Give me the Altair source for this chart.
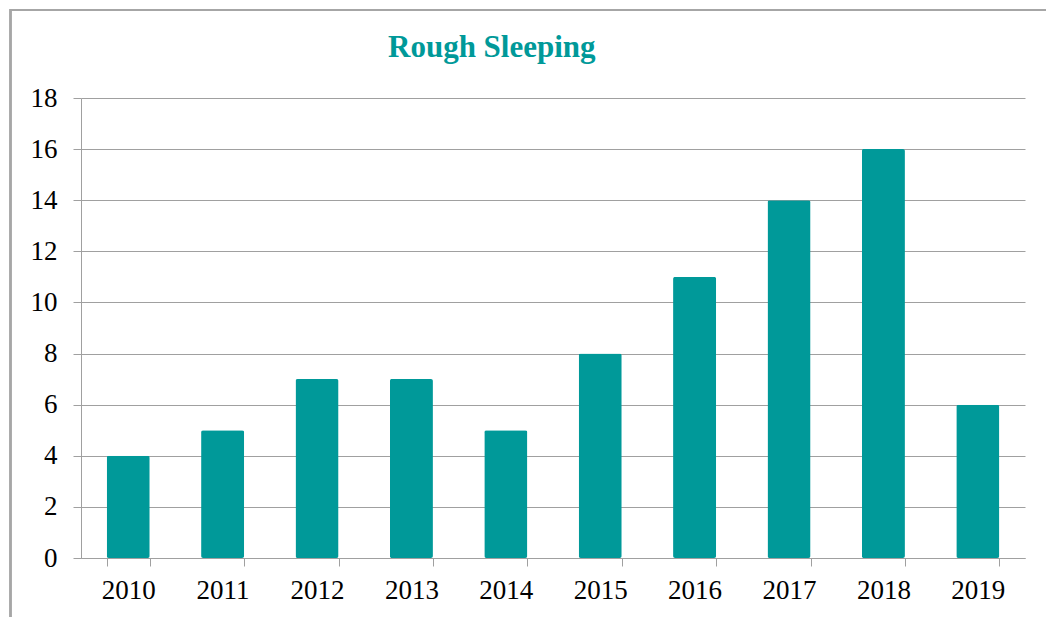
import altair as alt
import pandas as pd

years = ["2010", "2011", "2012", "2013", "2014", "2015", "2016", "2017", "2018", "2019"]
counts = [4, 5, 7, 7, 5, 8, 11, 14, 16, 6]
title_text = ["Rough Sleeping"]

df = pd.DataFrame({"year": years, "count": counts})
tdf = pd.DataFrame({"t": title_text})

TEAL = "#009999"
GRID = "#a0a0a0"
FONT = "Liberation Serif"

bars = alt.Chart(df).mark_bar(color=TEAL, cornerRadius=2).encode(
    x=alt.X(
        "year:N",
        sort=years,
        scale=alt.Scale(paddingInner=0.544, paddingOuter=0.272),
        axis=alt.Axis(
            title=None, labelAngle=0, tickBand="extent", tickSize=8,
            tickColor=GRID, domainColor=GRID, labelFont=FONT, labelFontSize=27,
            labelColor="black", labelPadding=11, grid=False,
        ),
    ),
    y=alt.Y(
        "count:Q",
        scale=alt.Scale(domain=[0, 18]),
        axis=alt.Axis(
            title=None, values=list(range(0, 19, 2)), tickSize=8, tickColor=GRID,
            domainColor=GRID, gridColor=GRID, grid=True, labelFont=FONT,
            labelFontSize=27, labelColor="black", labelPadding=16,
        ),
    ),
)

border = alt.Chart(df).mark_rect(fill=None, stroke="#a6a6a6", strokeWidth=1.5, clip=False).encode(
    x=alt.value(-70.5), x2=alt.value(1100), y=alt.value(-88), y2=alt.value(700)
)

title = alt.Chart(tdf).mark_text(
    align="left", baseline="alphabetic", font=FONT, fontSize=31,
    fontWeight="bold", color=TEAL,
).encode(text="t:N", x=alt.value(307), y=alt.value(-41))

chart = alt.layer(border, bars, title).properties(
    width=944,
    height=460,
    autosize=alt.AutoSizeParams(type="none"),
    padding={"left": 81, "top": 98, "right": 21, "bottom": 59},
).configure_view(stroke=None)

chart.save("out.html", embed_options={"renderer": "svg", "actions": False})
